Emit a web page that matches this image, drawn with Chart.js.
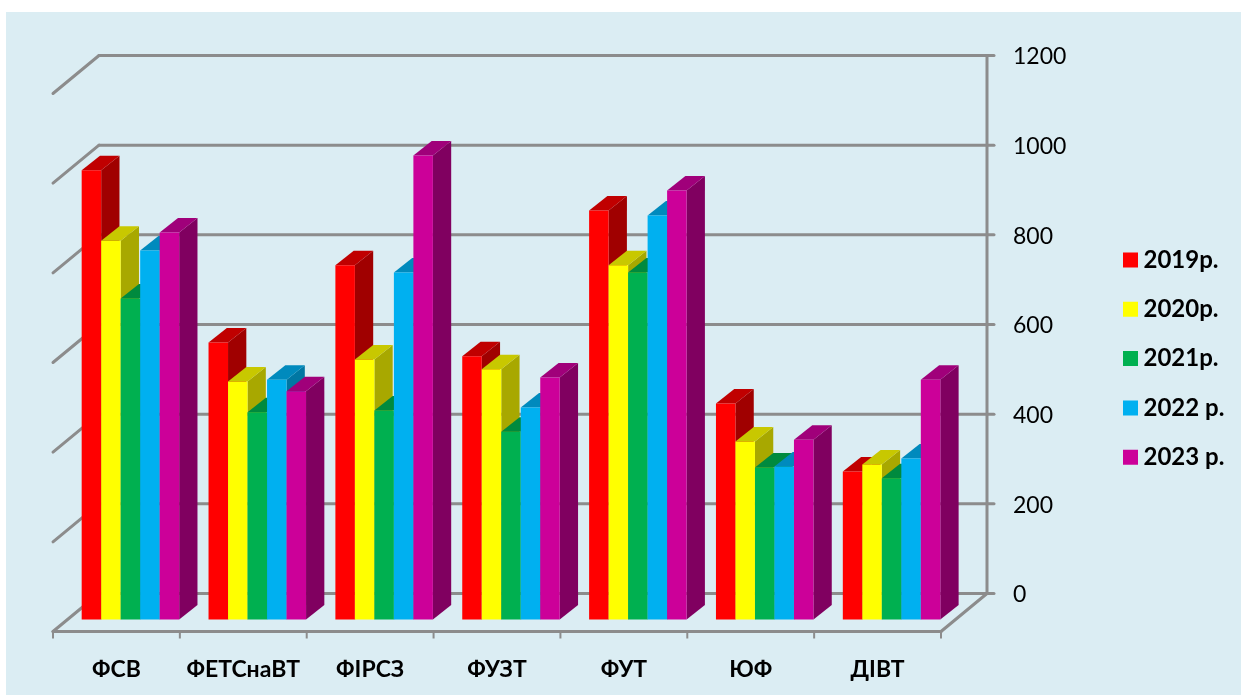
<!DOCTYPE html>
<html>
<head>
<meta charset="utf-8">
<title>Chart</title>
<script src="https://cdn.jsdelivr.net/npm/chart.js@4"></script>
<style>
html, body { margin: 0; padding: 0; background: #fff; overflow: hidden; }
canvas { display: block; }
</style>
</head>
<body>
<canvas id="grafico" width="1241" height="695"></canvas>
<script>
// values
var categories = ["ФСВ", "ФЕТСнаВТ", "ФІРСЗ", "ФУЗТ", "ФУТ", "ЮФ", "ДІВТ"];
var seriesNames = ["2019р.", "2020р.", "2021р.", "2022 р.", "2023 р."];
var v2019 = [1002, 618, 790, 587, 912, 482, 330];
var v2020 = [845, 531, 580, 558, 790, 397, 346];
var v2021 = [716, 462, 466, 419, 774, 339, 315];
var v2022 = [823, 535, 774, 473, 901, 341, 359];
var v2023 = [863, 509, 1035, 540, 957, 401, 535];
var yTicks = [0, 200, 400, 600, 800, 1000, 1200];

var frontColors = ["#FF0000", "#FFFF00", "#00B050", "#00B0F0", "#CC0099"];
var topColors = ["#C00000", "#C8C800", "#008A3E", "#008ABD", "#A0007A"];
var sideColors = ["#A00000", "#A8A800", "#007A38", "#0077A3", "#800060"];

var allValues = [v2019, v2020, v2021, v2022, v2023];
var datasets = [];
for (var s = 0; s < seriesNames.length; s++) {
	datasets.push({
		label: seriesNames[s],
		data: allValues[s],
		backgroundColor: frontColors[s],
		borderWidth: 0,
		barPercentage: 1,
		categoryPercentage: 0.7686
	});
}

var LINE = "#8C8C8C";
// 3d offsets, relative to the plane of the bar fronts
var BAR_DX = 18.3, BAR_DY = -14.5;
var WALL_DX = 32, WALL_DY = -26;
var FRONT_DX = -14, FRONT_DY = 12;

function line(ctx, x1, y1, x2, y2) {
	ctx.beginPath();
	ctx.moveTo(x1, y1);
	ctx.lineTo(x2, y2);
	ctx.stroke();
}

function poly(ctx, pts, color) {
	ctx.fillStyle = color;
	ctx.beginPath();
	ctx.moveTo(pts[0], pts[1]);
	for (var i = 2; i < pts.length; i += 2) ctx.lineTo(pts[i], pts[i + 1]);
	ctx.closePath();
	ctx.fill();
}

var fondo = {
	id: "fondo",
	beforeDraw: function (chart) {
		var ctx = chart.ctx;
		ctx.save();
		ctx.fillStyle = "#DBEDF3";
		ctx.fillRect(6, 12, chart.width - 6, chart.height - 12);
		ctx.restore();
	}
};

// moves the legend to its column at the right
var leyenda = {
	id: "leyenda",
	afterLayout: function (chart) {
		var l = chart.legend;
		var w = l.width, h = l.height;
		l.left = 1104.2;
		l.right = l.left + w;
		l.top = 222.7;
		l.bottom = l.top + h;
	}
};

var walls = {
	id: "walls",
	beforeDatasetsDraw: function (chart) {
		var ctx = chart.ctx, area = chart.chartArea;
		var yScale = chart.scales.y;
		var frontL = area.left + FRONT_DX, frontR = area.right + FRONT_DX;
		var frontY = area.bottom + FRONT_DY;
		var backL = area.left + WALL_DX, backR = area.right + WALL_DX;
		var depthY = WALL_DY - FRONT_DY;

		ctx.save();
		ctx.strokeStyle = LINE;
		ctx.lineWidth = 3;
		ctx.lineCap = "round";
		for (var i = 0; i < yTicks.length; i++) {
			var y = yScale.getPixelForValue(yTicks[i]) + WALL_DY;
			line(ctx, backL, y, backR + 7, y);
			line(ctx, backL, y, frontL, y - depthY);
		}
		line(ctx, backR, yScale.getPixelForValue(1200) + WALL_DY, backR, yScale.getPixelForValue(0) + WALL_DY);
		line(ctx, backR, yScale.getPixelForValue(0) + WALL_DY, frontR, frontY);
		line(ctx, frontL, frontY, frontR, frontY);
		ctx.lineWidth = 2;
		ctx.lineCap = "butt";
		var step = (frontR - frontL) / categories.length;
		for (var c = 0; c <= categories.length; c++) {
			line(ctx, frontL + c * step, frontY, frontL + c * step, frontY + 7);
		}
		ctx.restore();

		// bars go left to right so that each front hides the side of the previous one
		for (var d = 0; d < chart.data.datasets.length; d++) {
			var bars = chart.getDatasetMeta(d).data;
			for (var b = 0; b < bars.length; b++) {
				var p = bars[b].getProps(["x", "y", "base", "width"], true);
				var l = p.x - p.width / 2, r = p.x + p.width / 2;
				poly(ctx, [r, p.y, r + BAR_DX, p.y + BAR_DY, r + BAR_DX, p.base + BAR_DY, r, p.base], sideColors[d]);
				poly(ctx, [l, p.y, l + BAR_DX, p.y + BAR_DY, r + BAR_DX, p.y + BAR_DY, r, p.y], topColors[d]);
				bars[b].draw(ctx);
			}
		}
		return false;
	}
};

var ctx = document.getElementById("grafico").getContext("2d");
window.myBar = new Chart(ctx, {
	type: "bar",
	data: { labels: categories, datasets: datasets },
	plugins: [fondo, leyenda, walls],
	options: {
		responsive: false,
		animation: false,
		layout: { autoPadding: false, padding: { left: 67, top: 81.5, right: 0, bottom: 0 } },
		plugins: {
			tooltip: { enabled: false },
			title: { display: false },
			legend: {
				position: "chartArea",
				align: "start",
				labels: {
					boxWidth: 2,
					boxHeight: 2,
					padding: 25.3,
					color: "#000",
					font: { family: "Lato, 'Open Sans', sans-serif", size: 24, weight: "bold" },
					generateLabels: function (chart) {
						return Chart.defaults.plugins.legend.labels.generateLabels(chart).map(function (it, i) {
							it.strokeStyle = frontColors[i];
							it.lineWidth = 13;
							it.lineJoin = "miter";
							return it;
						});
					}
				}
			}
		},
		scales: {
			x: {
				grid: { display: false },
				border: { display: false },
				afterFit: function (scale) { scale.height = 75.5; },
				ticks: {
					color: "#000",
					padding: 28,
					labelOffset: FRONT_DX,
					maxRotation: 0,
					autoSkip: false,
					font: { family: "Lato, 'Open Sans', sans-serif", size: 23, weight: "bold" }
				}
			},
			y: {
				position: "right",
				min: 0,
				max: 1200,
				grid: { display: false },
				border: { display: false },
				afterFit: function (scale) { scale.width = 286; },
				ticks: {
					stepSize: 200,
					color: "#000",
					padding: 50,
					labelOffset: WALL_DY + 1.5,
					font: { family: "Lato, 'Open Sans', sans-serif", size: 23 },
					callback: function (v) { return String(v); }
				}
			}
		}
	}
});
</script>
</body>
</html>
